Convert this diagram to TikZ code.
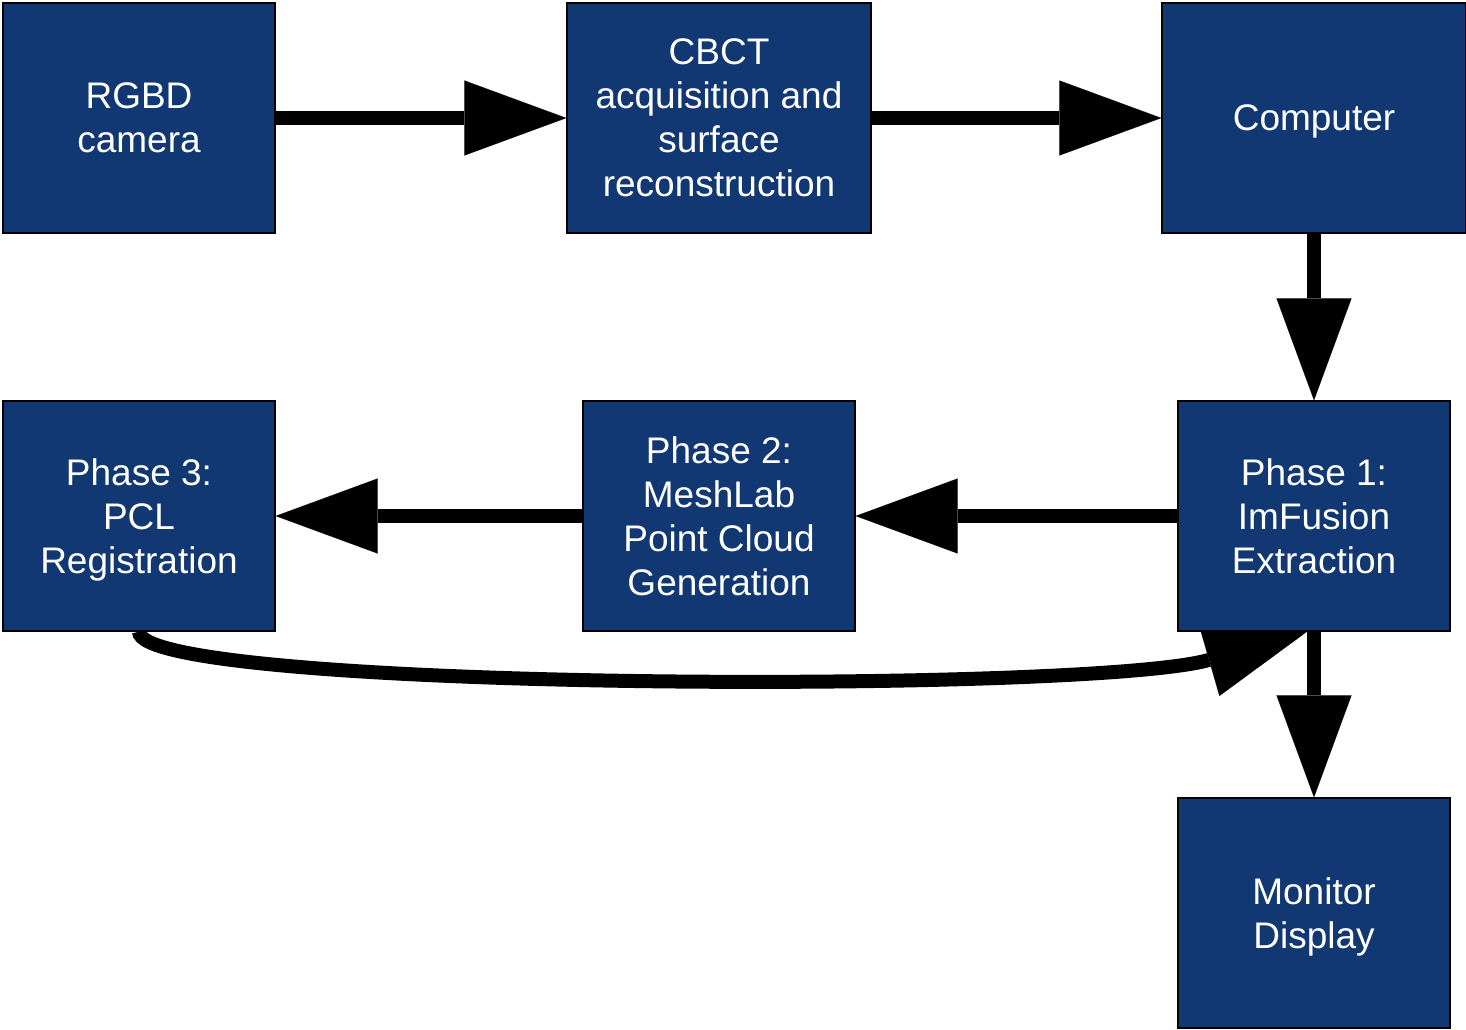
\documentclass[tikz,border=0pt]{standalone}
\usepackage{fontspec}
\setmainfont{Liberation Sans}
\usetikzlibrary{arrows.meta,backgrounds}
\definecolor{boxblue}{RGB}{17,56,115}
\tikzset{
  blk/.style={rectangle, draw=black, line width=1.3pt, fill=boxblue, text=white,
    minimum height=230pt, inner sep=0pt, align=center, text depth=0pt,
    font=\fontsize{37}{44}\selectfont},
  arr/.style={line width=14pt, -{Triangle[length=102pt,width=75pt,line width=0.1pt]}}
}
\begin{document}
\begin{tikzpicture}[x=1pt,y=-1pt]
\useasboundingbox (0,0) rectangle (1466,1029);
\node[blk, minimum width=272pt] (rgbd) at (139,118) {RGBD\\camera};
\node[blk, minimum width=304pt] (cbct) at (719,118) {CBCT\\acquisition and\\surface\\reconstruction};
\node[blk, minimum width=304pt] (comp) at (1314,118) {Computer};
\node[blk, minimum width=272pt] (p3) at (139,516) {Phase 3:\\PCL\\Registration};
\node[blk, minimum width=272pt] (p2) at (719,516) {Phase 2:\\MeshLab\\Point Cloud\\Generation};
\node[blk, minimum width=272pt] (p1) at (1314,516) {Phase 1:\\ImFusion\\Extraction};
\node[blk, minimum width=272pt] (mon) at (1314,913) {Monitor\\Display};
\coordinate (ctip) at ([xshift=-7pt]p1.south);
\begin{scope}[on background layer]
\draw[arr] (rgbd.east) -- (cbct.west);
\draw[arr] (cbct.east) -- (comp.west);
\draw[arr] (comp.south) -- (p1.north);
\draw[arr] (p1.west) -- (p2.east);
\draw[arr] (p2.west) -- (p3.east);
\draw[arr] (p1.south) -- (mon.north);
\draw[arr] (p3.south) .. controls ++(0,60) and ++(-215,62) .. (ctip);
\end{scope}
\end{tikzpicture}
\end{document}
